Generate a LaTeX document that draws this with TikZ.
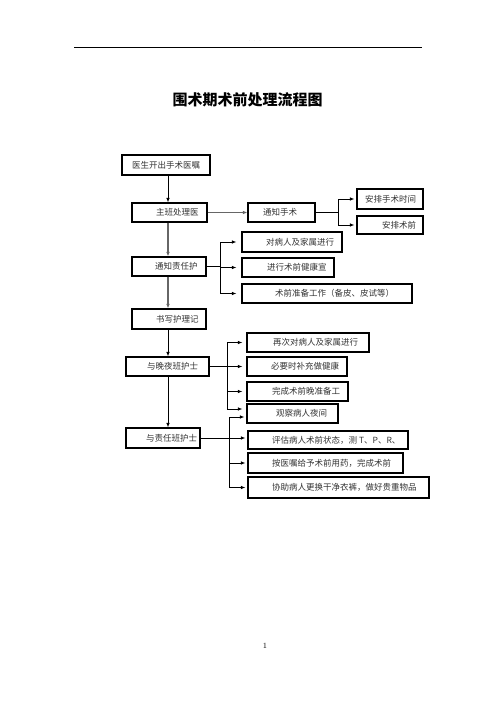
\documentclass[tikz,border=0pt]{standalone}
\usepackage{fontspec}
\newfontfamily\cjk{Noto Sans CJK SC}
\usetikzlibrary{arrows.meta}
\begin{document}
\begin{tikzpicture}[x=1pt,y=-1pt,
  box/.style={draw=black,line width=1.1pt,inner sep=0pt},
  txt/.style={anchor=west,inner sep=0pt,font=\cjk\fontsize{8.5}{9}\selectfont,text=black!80},
  arr/.style={-{Latex[length=4.5pt,width=3.5pt]},line width=0.8pt},
  ln/.style={line width=0.8pt},
  garr/.style={arr,draw=black!60,line width=1.5pt},
  gln/.style={ln,draw=black!60,line width=1.5pt}]
\useasboundingbox (0,0) rectangle (496,702);
\fill[white] (0,0) rectangle (496,702);
% header
\coordinate (hl) at (74,47);
\coordinate (hr) at (422,47);
\draw[line width=0.9pt] (hl) -- (hr);
\node[inner sep=0pt,font=\tiny,text=black!25] (hdr) at (255,41) {. . .};
% title
\node[inner sep=0pt,font=\cjk\bfseries\fontsize{15}{16}\selectfont] (title) at (247.5,100) {围术期术前处理流程图};
% page number
\node[inner sep=0pt,font=\fontsize{8}{9}\selectfont] (pg) at (265,646) {1};

% boxes: (name) at center, size
\node[box,minimum width=88pt,minimum height=20pt] (b1) at (166,165) {};
\node[box,minimum width=75pt,minimum height=19pt] (b2) at (169.5,212.5) {};
\node[box,minimum width=67pt,minimum height=19pt] (b3) at (281.5,212.5) {};
\node[box,minimum width=66pt,minimum height=20pt] (b4) at (390,199) {};
\node[box,minimum width=66pt,minimum height=18pt] (b5) at (390,225) {};
\node[box,minimum width=74pt,minimum height=19pt] (c1) at (169,266.5) {};
\node[box,minimum width=100pt,minimum height=20pt] (c2) at (292,242) {};
\node[box,minimum width=92pt,minimum height=19pt] (c3) at (288,267.5) {};
\node[box,minimum width=170pt,minimum height=19pt] (c4) at (327,293.5) {};
\node[box,minimum width=74pt,minimum height=20pt] (d1) at (169,319) {};
\node[box,minimum width=83pt,minimum height=19pt] (e1) at (167.5,366.5) {};
\node[box,minimum width=122pt,minimum height=19pt] (e2) at (308,342.5) {};
\node[box,minimum width=100pt,minimum height=19pt] (e3) at (297,366.5) {};
\node[box,minimum width=101pt,minimum height=19pt] (e4) at (297.5,391.5) {};
\node[box,minimum width=91pt,minimum height=19pt] (e5) at (292.5,413.5) {};
\node[box,minimum width=74pt,minimum height=20pt] (f1) at (163,438) {};
\node[box,minimum width=160pt,minimum height=18pt] (f2) at (328,440) {};
\node[box,minimum width=155pt,minimum height=20pt] (f3) at (325.5,463) {};
\node[box,minimum width=181pt,minimum height=21pt] (f4) at (338.5,487.5) {};

% texts
\node[txt] (t1) at (132,165) {医生开出手术医嘱};
\node[txt] (t2) at (156,212.5) {主班处理医};
\node[txt] (t3) at (263,212.5) {通知手术};
\node[txt] (t4) at (365,199) {安排手术时间};
\node[txt] (t5) at (382,225) {安排术前};
\node[txt] (tc1) at (155,266.5) {通知责任护};
\node[txt] (tc2) at (266,242) {对病人及家属进行};
\node[txt] (tc3) at (267,267.5) {进行术前健康宣};
\node[txt] (tc4) at (275,293.5) {术前准备工作（备皮、皮试等）};
\node[txt] (td1) at (156,319) {书写护理记};
\node[txt] (te1) at (147,366.5) {与晚夜班护士};
\node[txt] (te2) at (273,342.5) {再次对病人及家属进行};
\node[txt] (te3) at (271,366.5) {必要时补充做健康};
\node[txt] (te4) at (272,391.5) {完成术前晚准备工};
\node[txt] (te5) at (276,413.5) {观察病人夜间};
\node[txt] (tf1) at (146,438) {与责任班护士};
\node[txt] (tf2) at (272,440) {评估病人术前状态，测 T、P、R、};
\node[txt] (tf3) at (272,463) {按医嘱给予术前用药，完成术前};
\node[txt] (tf4) at (272,487.5) {协助病人更换干净衣裤，做好贵重物品};

% spine
\coordinate (sp) at (168,0);
\draw[arr] (b1.south -| sp) -- (b2.north -| sp);
\draw[garr] (b2.south -| sp) -- (c1.north -| sp);
\draw[garr] (c1.south -| sp) -- (d1.north -| sp);
\draw[arr] (d1.south -| sp) -- (e1.north -| sp);
\draw[arr] (e1.south -| sp) -- (f1.north -| sp);

% branch from b2
\draw[garr] (b2.east) -- (b3.west);
\coordinate (j1) at (338,212.5);
\draw[ln] (b3.east) -- (j1);
\draw[arr] (j1) |- ([xshift=-2pt]b4.west);
\draw[arr] (j1) |- ([xshift=-2pt]b5.west);

% branch from c1
\coordinate (j2) at (220,266.5);
\draw[ln] (c1.east) -- (j2);
\draw[arr] (j2) |- ([xshift=-5pt]c2.west);
\draw[arr] (j2) |- ([xshift=-5pt]c3.west);
\draw[arr] (j2) |- ([xshift=-5pt]c4.west);

% branch from e1
\coordinate (j3) at (227,366.5);
\draw[arr] (e1.east) -- ([xshift=-4pt]e3.west);
\draw[arr] (j3) |- ([xshift=-4pt]e2.west);
\draw[arr] (j3) |- ([xshift=-4pt]e4.west);
\draw[arr] (j3) |- ([xshift=-4pt,yshift=4.5pt]e5.west);

% branch from f1
\coordinate (j4) at (229,438);
\draw[arr] (f1.east) -- ([xshift=-2pt]f1.east -| f2.west);
\draw[arr] (j4) |- ([xshift=-2pt,yshift=-3.5pt]e5.west);
\draw[arr] (j4) |- ([xshift=-2pt]f3.west);
\draw[arr] (j4) |- ([xshift=-2pt]f4.west);
\end{tikzpicture}
\end{document}
